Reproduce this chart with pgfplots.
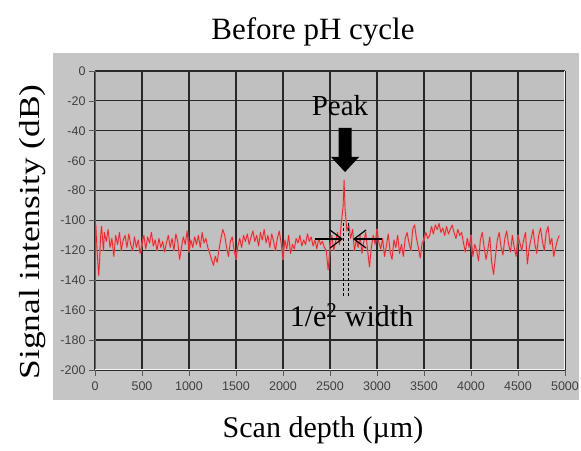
\documentclass[border=0pt]{standalone}
\usepackage{pgfplots}
\pgfplotsset{compat=1.18}
\usepackage{fontspec}
\setmainfont{Liberation Serif}
\newfontfamily\tickfont{Liberation Sans}
\usetikzlibrary{arrows.meta}
\definecolor{panel}{RGB}{197,197,197}
\definecolor{plotbg}{RGB}{192,192,192}
\definecolor{gridc}{RGB}{40,40,40}
\definecolor{sigred}{RGB}{228,40,45}
\definecolor{sigpink}{RGB}{240,140,145}
\definecolor{tickc}{RGB}{64,64,64}
\begin{document}
\begin{tikzpicture}
\useasboundingbox (0,0) rectangle (581pt,450pt);
\fill[white] (0,0) rectangle (581pt,450pt);
\fill[panel] (53pt,50pt) rectangle (579pt,397pt);
\node[anchor=base, font=\fontsize{31}{36}\selectfont] at (313pt,410pt) {Before pH cycle};
\node[anchor=base, rotate=90, font=\fontsize{29}{34}\selectfont] at (39.5pt,218pt) {\scalebox{1.22}[1]{Signal intensity (dB)}};
\node[anchor=base, font=\fontsize{30}{35}\selectfont] at (323pt,13pt) {Scan depth (\textmu m)};
\begin{axis}[
  at={(95pt,80pt)}, anchor=south west,
  scale only axis, width=470pt, height=299pt,
  xmin=0, xmax=5000, ymin=-200, ymax=0,
  xtick={0,500,1000,1500,2000,2500,3000,3500,4000,4500,5000},
  xticklabels={0,500,1000,1500,2000,2500,3000,3500,4000,4500,5000},
  ytick={-200,-180,-160,-140,-120,-100,-80,-60,-40,-20,0},
  yticklabels={-200,-180,-160,-140,-120,-100,-80,-60,-40,-20,0},
  xtick pos=bottom, ytick pos=left,
  tick align=outside,
  major tick length=6pt,
  tick style={color=gray!70!black, line width=0.7pt},
  ticklabel style={font=\fontsize{12.5}{14}\selectfont\tickfont, color=tickc},
  xticklabel style={yshift=-2pt},
  grid=major,
  grid style={line width=1.2pt, color=gridc},
  axis line style={draw=none},
  axis background/.style={fill=plotbg},
]
\addplot[color=sigred, line width=0.8pt, line join=round,
  preaction={draw, color=sigpink, line width=2pt, opacity=0.6}] coordinates {
(0,-100) (10,-104) (20,-118) (30,-128) (40,-137) (50,-125) (60,-110) (70,-104)
(80,-112) (90,-120) (100,-108) (120,-114) (140,-106) (160,-118) (180,-112) (200,-124)
(220,-110) (240,-116) (260,-108) (280,-120) (300,-113) (320,-110) (340,-118) (360,-109)
(380,-116) (400,-120) (420,-111) (440,-118) (460,-113) (480,-122) (500,-116) (520,-110)
(540,-119) (560,-111) (580,-115) (600,-108) (620,-117) (640,-113) (660,-120) (680,-112)
(700,-118) (720,-114) (740,-121) (760,-115) (780,-110) (800,-118) (820,-112) (840,-120)
(860,-109) (880,-114) (900,-126) (920,-118) (940,-111) (960,-116) (980,-107) (1000,-121)
(1020,-113) (1040,-118) (1060,-111) (1080,-116) (1100,-110) (1120,-118) (1140,-108) (1160,-115)
(1180,-112) (1200,-118) (1220,-122) (1240,-126) (1260,-130) (1280,-124) (1300,-128) (1320,-119)
(1340,-112) (1360,-106) (1380,-110) (1400,-118) (1420,-124) (1440,-114) (1460,-111) (1480,-120)
(1500,-126) (1520,-117) (1540,-112) (1560,-118) (1580,-110) (1600,-114) (1620,-109) (1640,-116)
(1660,-111) (1680,-107) (1700,-114) (1720,-110) (1740,-117) (1760,-108) (1780,-113) (1800,-106)
(1820,-115) (1840,-110) (1860,-118) (1880,-109) (1900,-114) (1920,-120) (1940,-112) (1960,-107)
(1980,-115) (2000,-126) (2020,-113) (2040,-119) (2060,-110) (2080,-122) (2100,-116) (2120,-119)
(2140,-112) (2160,-115) (2180,-110) (2200,-117) (2220,-113) (2240,-116) (2260,-109) (2280,-114)
(2300,-111) (2320,-117) (2340,-113) (2360,-119) (2380,-112) (2400,-116) (2420,-114) (2440,-118)
(2460,-120) (2480,-133) (2500,-118) (2520,-110) (2540,-120) (2560,-114) (2580,-108) (2600,-116)
(2620,-102) (2640,-90) (2650,-73) (2660,-92) (2680,-107) (2700,-103) (2720,-112) (2740,-106)
(2760,-120) (2780,-113) (2800,-118) (2820,-110) (2840,-122) (2860,-114) (2880,-108) (2900,-120)
(2920,-131) (2940,-118) (2960,-110) (2980,-116) (3000,-106) (3020,-115) (3040,-119) (3060,-112)
(3080,-124) (3100,-117) (3120,-109) (3140,-121) (3160,-126) (3180,-113) (3200,-118) (3220,-110)
(3240,-122) (3260,-116) (3280,-124) (3300,-112) (3320,-108) (3340,-115) (3360,-120) (3380,-106)
(3400,-103) (3420,-112) (3440,-118) (3460,-125) (3480,-115) (3500,-113) (3520,-108) (3540,-112)
(3560,-110) (3580,-104) (3600,-109) (3620,-103) (3640,-106) (3660,-102) (3680,-108) (3700,-105)
(3720,-110) (3740,-104) (3760,-109) (3780,-106) (3800,-103) (3820,-108) (3840,-112) (3860,-106)
(3880,-110) (3900,-108) (3920,-115) (3940,-121) (3960,-112) (3980,-118) (4000,-110) (4020,-124)
(4040,-116) (4060,-120) (4080,-127) (4100,-113) (4120,-108) (4140,-118) (4160,-126) (4180,-119)
(4200,-111) (4220,-128) (4240,-136) (4260,-124) (4280,-113) (4300,-108) (4320,-118) (4340,-123)
(4360,-112) (4380,-107) (4400,-116) (4420,-121) (4440,-110) (4460,-118) (4480,-124) (4500,-110)
(4520,-115) (4540,-120) (4560,-113) (4580,-108) (4600,-129) (4620,-118) (4640,-112) (4660,-106)
(4680,-116) (4700,-122) (4720,-110) (4740,-105) (4760,-114) (4780,-120) (4800,-108) (4820,-104)
(4840,-116) (4860,-112) (4880,-124) (4900,-118) (4920,-113) (4940,-110)
};
% frame edges
\draw[color=gray!75!black, line width=1pt] (axis cs:0,-200) -- (axis cs:0,0);
\draw[color=white!92!gray, line width=1.8pt] (axis cs:0,-200) -- (axis cs:5000,-200);
\draw[color=white!92!gray, line width=1.8pt] (axis cs:5000,-200) -- (axis cs:5000,0);
% annotations
\node[anchor=base, font=\fontsize{29}{34}\selectfont] at (axis cs:2606,-30.1) {Peak};
\fill[black] (axis cs:2591,-38) -- (axis cs:2729,-38) -- (axis cs:2729,-57.5) -- (axis cs:2809,-57.5)
  -- (axis cs:2660,-67.6) -- (axis cs:2511,-57.5) -- (axis cs:2591,-57.5) -- cycle;
\draw[line width=1.2pt, -{Straight Barb[length=12pt,width=18pt]}] (axis cs:2340,-112.4) -- (axis cs:2638,-112.4);
\draw[line width=1.2pt, -{Straight Barb[length=12pt,width=18pt]}] (axis cs:3053,-112.4) -- (axis cs:2745,-112.4);
\draw[line width=1pt, dash pattern=on 3pt off 2pt] (axis cs:2640,-101.7) -- (axis cs:2640,-151.8);
\draw[line width=1pt, dash pattern=on 3pt off 2pt] (axis cs:2693,-101.7) -- (axis cs:2693,-151.8);
\node[anchor=base, font=\fontsize{30}{35}\selectfont] at (axis cs:2729,-171.0) {1/e\textsuperscript{2} width};
\end{axis}
\end{tikzpicture}
\end{document}
